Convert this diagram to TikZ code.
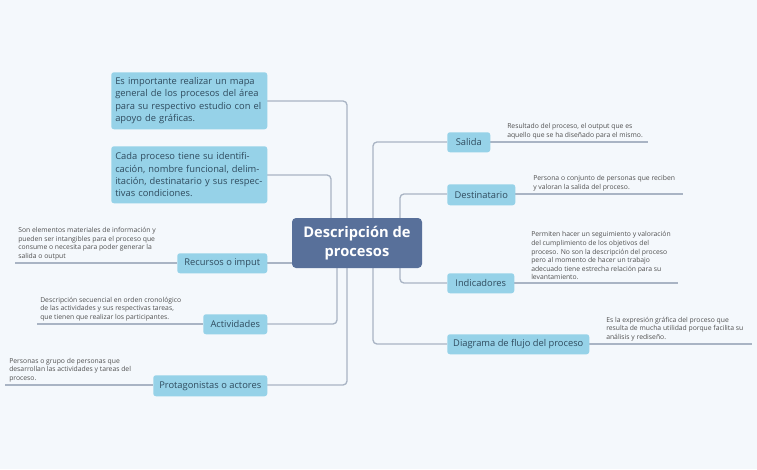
\documentclass[tikz,border=0pt]{standalone}
\usepackage{fontspec}
\setmainfont{Open Sans}
\begin{document}
\begin{tikzpicture}[x=0.75pt,y=-0.75pt,
  ln/.style={draw=lc,line width=1pt,rounded corners=3pt},
  tp/.style={fill=tb,rounded corners=2pt,text=tt,font=\fontsize{7}{8}\selectfont,inner sep=0pt,anchor=north west},
  big/.style={fill=tb,rounded corners=2pt,text=tt,font=\fontsize{7}{9.3}\selectfont,inner sep=0pt,anchor=north west},
  ds/.style={text=dt,font=\fontsize{5.1}{6.4}\selectfont,align=left,inner sep=0pt,anchor=south west}]
\definecolor{lc}{HTML}{A9B4C4}
\definecolor{tb}{HTML}{96D2E8}
\definecolor{tt}{HTML}{2F4B5E}
\definecolor{dt}{HTML}{505050}
\definecolor{bg}{HTML}{F4F8FC}
\definecolor{cb}{HTML}{58709A}
\fill[bg] (0,0) rectangle (757,469);
\useasboundingbox (0,0) rectangle (757,469);
% connectors
\draw[ln] (267,101) -- (347,101) -- (347,385) -- (267,385);
\draw[ln] (267,175) -- (331,175) -- (331,230);
\draw[ln] (292,263) -- (267,263);
\draw[ln] (337,250) -- (337,324) -- (267,324);
\draw[ln] (447,142) -- (373,142) -- (373,344) -- (447,344);
\draw[ln] (447,194) -- (400,194) -- (400,283) -- (447,283);
% underlines
\draw[lc,line width=1pt] (177,263) -- (15,263);
\draw[lc,line width=1pt] (203,324) -- (37,324);
\draw[lc,line width=1pt] (153,385) -- (5,385);
\draw[lc,line width=1pt] (490,142) -- (648,142);
\draw[lc,line width=1pt] (515,194) -- (683,194);
\draw[lc,line width=1pt] (514,283) -- (678,283);
\draw[lc,line width=1pt] (589,344) -- (752,344);
% central
\node[fill=cb,rounded corners=3pt,text=white,font=\bfseries\fontsize{11}{14}\selectfont,align=center,minimum width=97.5pt,minimum height=37.5pt,inner sep=0pt] (c) at (357,243) {Descripción de\\procesos};
% boxes
\node[big,minimum width=117pt,minimum height=42.75pt,text width=111pt,align=left,inner xsep=3pt] (b1) at (111,72) {Es importante realizar un mapa general de los procesos del área para su respectivo estudio con el apoyo de gráficas.};
\node[big,minimum width=117pt,minimum height=42.75pt,text width=111pt,align=left,inner xsep=3pt] (b2) at (111,146) {Cada proceso tiene su identificación, nombre funcional, delimitación, destinatario y sus respectivas condiciones.};
\node[tp,minimum width=67.5pt,minimum height=15pt] (r) at (177,253) {Recursos o imput};
\node[tp,minimum width=48pt,minimum height=15pt] (a) at (203,314) {Actividades};
\node[tp,minimum width=85.5pt,minimum height=15.75pt] (p) at (153,375) {Protagonistas o actores};
\node[tp,minimum width=32.25pt,minimum height=15pt] (s) at (447,132) {Salida};
\node[tp,minimum width=51pt,minimum height=15.75pt] (d) at (447,184) {Destinatario};
\node[tp,minimum width=50.25pt,minimum height=15pt] (i) at (447,273) {Indicadores};
\node[tp,minimum width=106.5pt,minimum height=15pt] (f) at (447,334) {Diagrama de flujo del proceso};
% descriptions
\node[ds] (dr) at (18,260) {Son elementos materiales de información y\\pueden ser intangibles para el proceso que\\consume o necesita para poder generar la\\salida o output};
\node[ds] (da) at (40,321) {Descripción secuencial en orden cronológico\\de las actividades y sus respectivas tareas,\\que tienen que realizar los participantes.};
\node[ds] (dp) at (9,382) {Personas o grupo de personas que\\desarrollan las actividades y tareas del\\proceso.};
\node[ds] (dsa) at (507,139) {Resultado del proceso, el output que es\\aquello que se ha diseñado para el mismo.};
\node[ds] (dd) at (533,191) {Persona o conjunto de personas que reciben\\y valoran la salida del proceso.};
\node[ds] (di) at (531,280) {Permiten hacer un seguimiento y valoración\\del cumplimiento de los objetivos del\\proceso. No son la descripción del proceso\\pero al momento de hacer un trabajo\\adecuado tiene estrecha relación para su\\levantamiento.};
\node[ds] (df) at (606,341) {Es la expresión gráfica del proceso que\\resulta de mucha utilidad porque facilita su\\análisis y rediseño.};
\end{tikzpicture}
\end{document}
